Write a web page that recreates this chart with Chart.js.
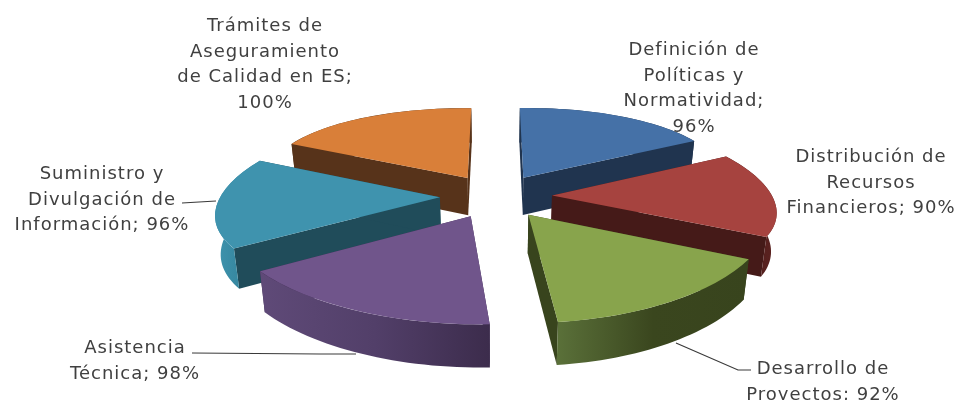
<!DOCTYPE html>
<html lang="es">
<head>
<meta charset="utf-8">
<title>Funciones por área</title>
<script src="https://cdn.jsdelivr.net/npm/chart.js@4/dist/chart.umd.min.js"></script>
<style>
    html, body { margin: 0; padding: 0; background: #fff; overflow: hidden; }
    canvas { display: block; filter: blur(0.45px); }
</style>
</head>
<body>
<canvas id="pieChart" width="959" height="400"></canvas>
<script>
// Datos
const categorias = [
    'Definición de Políticas y Normatividad',
    'Distribución de Recursos Financieros',
    'Desarrollo de Proyectos',
    'Asistencia Técnica',
    'Suministro y Divulgación de Información',
    'Trámites de Aseguramiento de Calidad en ES'
];
const porcentajes = [96, 90, 92, 98, 96, 100];
const lineasEtiqueta = [
    ['Definición de', 'Políticas y', 'Normatividad;', '96%'],
    ['Distribución de', 'Recursos', 'Financieros; 90%'],
    ['Desarrollo de', 'Proyectos; 92%'],
    ['Asistencia', 'Técnica; 98%'],
    ['Suministro y', 'Divulgación de', 'Información; 96%'],
    ['Trámites de', 'Aseguramiento', 'de Calidad en ES;', '100%']
];

// Colores de cada porción
const coloresCara = ['#4571a7', '#a6433f', '#88a44c', '#70558b', '#3f93ae', '#d97f39'];
const coloresCorte = ['#20344f', '#451a18', '#38441d', '#3f2d52', '#204c5a', '#57331a'];
const coloresBorde = [
    ['#20344f', '#20344f'],
    ['#451a18', '#5c2220'],
    ['#5a7039', '#3a461e', '#38441d'],
    ['#5f4a78', '#523f69', '#3c2c4c'],
    ['#3f94ae', '#2f7c94'],
    ['#57331a', '#57331a']
];

// Posición de las etiquetas: centro x y línea base de la primera línea
const posicionEtiqueta = [[694, 55], [871, 162], [823, 374], [135, 353], [102, 179], [265, 31]];
const guias = [
    [[182, 203], [216, 201]],
    [[192, 353], [320, 354], [356, 354]],
    [[676, 343], [738, 370], [751, 370]]
];

// Proyección del pastel en perspectiva
const CX = 496, CY = 196, RX = 220, RY = 85.3, PERSPECTIVA = 0.151, EXPLOSION = 0.255;
const ALTO_LINEA = 25.6;

function proyectar(u, v) {
    const s = 1 / (1 - PERSPECTIVA * v);
    return { x: CX + RX * u * s, y: CY + RY * v * s };
}

// Transformación afín de una porción: centro y dos extremos quedan en su lugar proyectado
function afinPorcion(arco) {
    const a = arco.startAngle, b = arco.endAngle, m = (a + b) / 2;
    const ex = EXPLOSION * Math.cos(m), ey = EXPLOSION * Math.sin(m);
    const p0 = proyectar(ex, ey);
    const p1 = proyectar(ex + Math.cos(a), ey + Math.sin(a));
    const p2 = proyectar(ex + Math.cos(b), ey + Math.sin(b));
    const det = Math.cos(a) * Math.sin(b) - Math.cos(b) * Math.sin(a);
    const i11 = Math.sin(b) / det, i12 = -Math.cos(b) / det;
    const i21 = -Math.sin(a) / det, i22 = Math.cos(a) / det;
    const d1x = p1.x - p0.x, d1y = p1.y - p0.y, d2x = p2.x - p0.x, d2y = p2.y - p0.y;
    return {
        a: d1x * i11 + d2x * i21,
        b: d1y * i11 + d2y * i21,
        c: d1x * i12 + d2x * i22,
        d: d1y * i12 + d2y * i22,
        e: p0.x,
        f: p0.y
    };
}

function aplicar(t, u, v) {
    return { x: t.a * u + t.c * v + t.e, y: t.b * u + t.d * v + t.f };
}

// Punto inferior del grosor, más alto atrás que adelante
function fondo(p) {
    return { x: CX + (p.x - CX) * 0.98, y: p.y + 38 + (p.y - CY) * 0.04 };
}

function rellenar(ctx, puntos, color) {
    ctx.beginPath();
    puntos.forEach((p, i) => (i ? ctx.lineTo(p.x, p.y) : ctx.moveTo(p.x, p.y)));
    ctx.closePath();
    ctx.fillStyle = color;
    ctx.fill();
}

function dibujarPorcion(ctx, arco, i) {
    const t = afinPorcion(arco);
    const a = arco.startAngle, b = arco.endAngle;
    const centro = aplicar(t, 0, 0);

    // Borde curvo
    const curva = [];
    for (let k = 0; k <= 32; k++) {
        const ang = a + (b - a) * k / 32;
        curva.push(aplicar(t, Math.cos(ang), Math.sin(ang)));
    }

    // Cortes rectos
    [curva[0], curva[curva.length - 1]].forEach(p => {
        rellenar(ctx, [centro, p, fondo(p), fondo(centro)], coloresCorte[i]);
    });

    // Pared exterior con degradado de izquierda a derecha
    const xs = curva.map(p => p.x);
    const grad = ctx.createLinearGradient(Math.min(...xs), 0, Math.max(...xs), 0);
    coloresBorde[i].forEach((c, k, lista) => grad.addColorStop(k / (lista.length - 1), c));
    rellenar(ctx, curva.concat(curva.map(fondo).reverse()), grad);

    // Cara superior: la dibuja el propio arco de Chart.js
    ctx.save();
    ctx.transform(t.a, t.b, t.c, t.d, t.e, t.f);
    ctx.scale(1 / arco.outerRadius, 1 / arco.outerRadius);
    ctx.translate(-arco.x, -arco.y);
    arco.draw(ctx);
    ctx.restore();
}

const pastel3D = {
    id: 'pastel3D',
    beforeDatasetDraw(chart, args) {
        const ctx = chart.ctx;
        const arcos = chart.getDatasetMeta(args.index).data;
        // De atrás hacia adelante según el ángulo medio
        const orden = arcos.map((arco, i) => i).sort((p, q) => {
            const mp = (arcos[p].startAngle + arcos[p].endAngle) / 2;
            const mq = (arcos[q].startAngle + arcos[q].endAngle) / 2;
            return Math.sin(mp) - Math.sin(mq);
        });
        orden.forEach(i => dibujarPorcion(ctx, arcos[i], i));
        return false;
    },
    afterDraw(chart) {
        const ctx = chart.ctx;
        ctx.save();
        ctx.strokeStyle = '#3a3a3a';
        ctx.lineWidth = 1.2;
        guias.forEach(guia => {
            ctx.beginPath();
            guia.forEach((p, i) => (i ? ctx.lineTo(p[0], p[1]) : ctx.moveTo(p[0], p[1])));
            ctx.stroke();
        });
        ctx.fillStyle = '#404040';
        ctx.font = '18px "DejaVu Sans"';
        ctx.letterSpacing = '1px';
        ctx.textAlign = 'center';
        ctx.textBaseline = 'alphabetic';
        lineasEtiqueta.forEach((lineas, i) => {
            lineas.forEach((linea, k) => {
                ctx.fillText(linea, posicionEtiqueta[i][0], posicionEtiqueta[i][1] + k * ALTO_LINEA);
            });
        });
        ctx.restore();
    }
};

new Chart(document.getElementById('pieChart'), {
    type: 'pie',
    data: {
        labels: categorias,
        datasets: [{
            data: porcentajes,
            backgroundColor: coloresCara,
            borderWidth: 0
        }]
    },
    options: {
        responsive: false,
        animation: false,
        radius: 100,
        plugins: {
            legend: { display: false },
            tooltip: { enabled: false }
        }
    },
    plugins: [pastel3D]
});
</script>
</body>
</html>
